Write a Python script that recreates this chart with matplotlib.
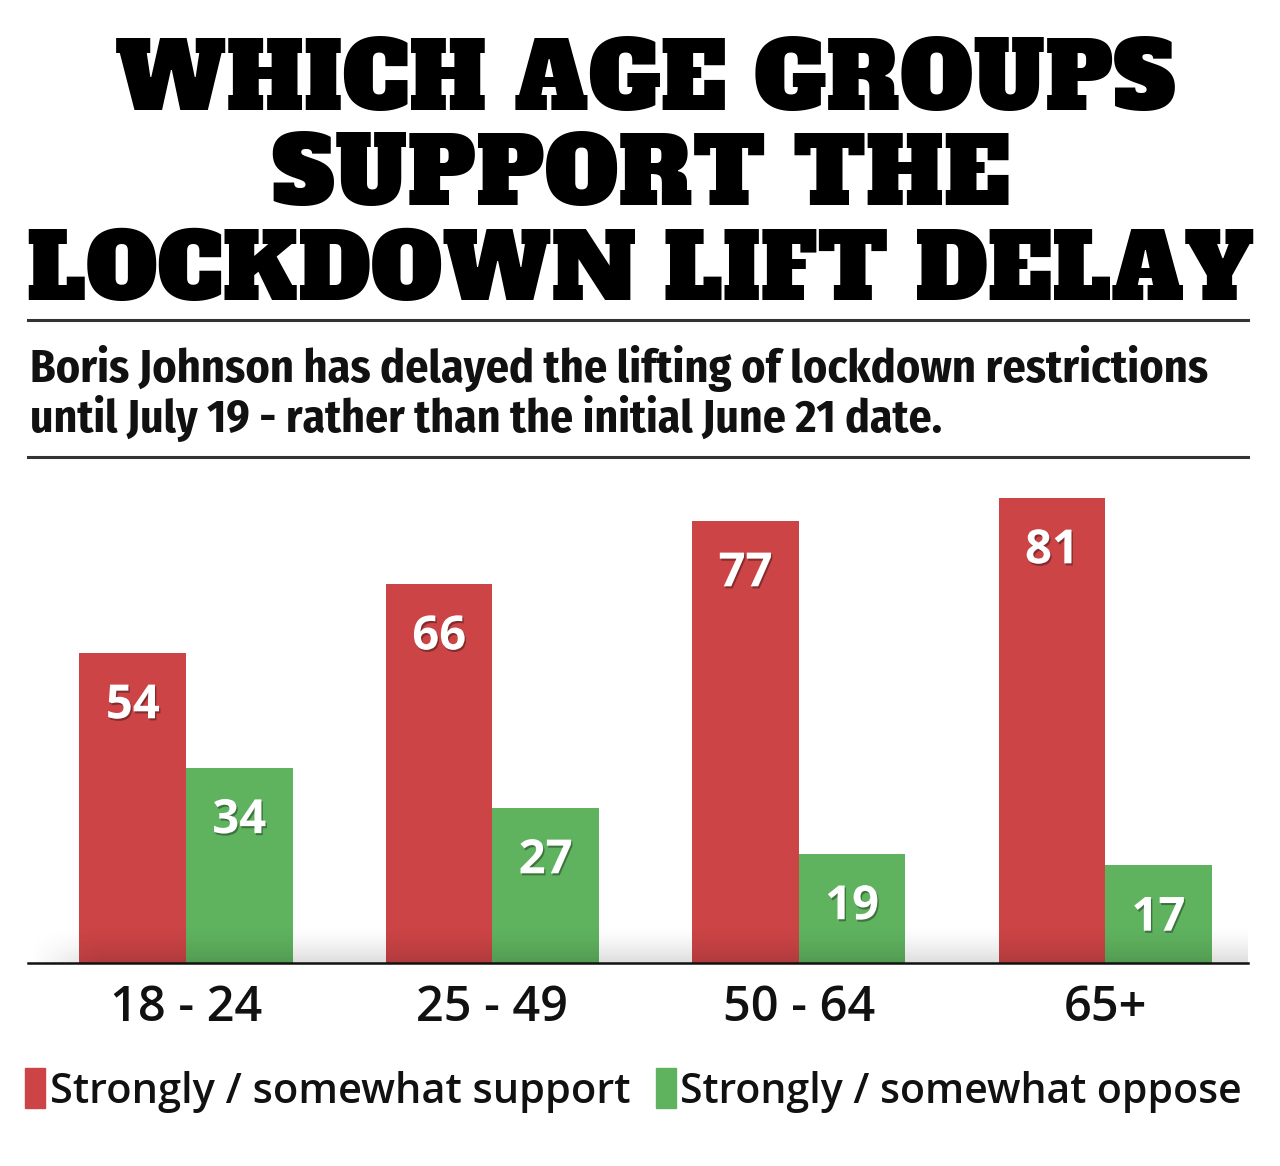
import matplotlib
matplotlib.use('Agg')
import matplotlib.pyplot as plt
import matplotlib.patheffects as pe
from matplotlib.patches import Rectangle
from matplotlib.lines import Line2D
import numpy as np

# poll: support for delaying the lockdown lift, by age group
groups = ['18 - 24', '25 - 49', '50 - 64', '65+']
support = [54, 66, 77, 81]
oppose = [34, 27, 19, 17]

title_lines = ['WHICH AGE GROUPS', 'SUPPORT THE', 'LOCKDOWN LIFT DELAY']
subtitle_lines = ['Boris Johnson has delayed the lifting of lockdown restrictions',
                  'until July 19 - rather than the initial June 21 date.']
legend_labels = ['Strongly / somewhat support', 'Strongly / somewhat oppose']

red = '#cc4446'
green = '#5fb35f'

W, H = 1280, 1166


def fx(px):
    return px / W


def fy(py):
    return 1 - py / H


fig = plt.figure(figsize=(W / 100, H / 100), dpi=100)
fig.patch.set_facecolor('white')
renderer = fig.canvas.get_renderer()


def fit(t, width_px):
    w = t.get_window_extent(renderer).width
    t.set_fontsize(t.get_fontsize() * width_px / w)


# title
title_x = [645, 641, 641]
title_y = [110, 205, 300]
title_w = [1060, 738, 1227]
for line, x, y, w in zip(title_lines, title_x, title_y, title_w):
    t = fig.text(fx(x), fy(y), line, ha='center', va='baseline',
                 family=['Alfa Slab One', 'DejaVu Serif'], fontsize=60, color='black')
    fit(t, w)

# rules
for y in [320, 457]:
    fig.add_artist(Line2D([fx(28), fx(1248)], [fy(y), fy(y)], color='#333333',
                          linewidth=2.2, transform=fig.transFigure))

# subtitle
sub_w = [1175, 910]
for line, y, w in zip(subtitle_lines, [382, 432], sub_w):
    t = fig.text(fx(30), fy(y), line, ha='left', va='baseline',
                 family=['Fira Sans Condensed', 'DejaVu Sans'], weight='bold',
                 fontsize=30, color='#111111')
    fit(t, w)

# bars
px_per_unit = 5.74
ax = fig.add_axes([fx(28), fy(963), fx(1248) - fx(28), (963 - 470) / H])
x = np.arange(len(groups))
bw = 0.3476
ax.bar(x - bw / 2, support, bw, color=red, zorder=2)
ax.bar(x + bw / 2, oppose, bw, color=green, zorder=2)

xl = (28 - 186) / 306.4
xr = (1248 - 186) / 306.4
ytop = (963 - 470) / px_per_unit

# soft shadow along the base
sh_h = 40 / px_per_unit
ny, nx = 60, 400
yy = np.linspace(1, 0, ny)[:, None]
xx = np.linspace(0, 1, nx)[None, :]
alpha_v = (1 - yy) ** 1.6
alpha_h = np.clip(xx * 1220 / 70, 0, 1)
rgba = np.zeros((ny, nx, 4))
rgba[..., 3] = 0.14 * alpha_v * alpha_h
ax.imshow(rgba, extent=[xl, xr, 0, sh_h], aspect='auto', zorder=3,
          interpolation='bilinear')

ax.set_xlim(xl, xr)
ax.set_ylim(0, ytop)

for i in range(len(groups)):
    for xpos, val in [(x[i] - bw / 2, support[i]), (x[i] + bw / 2, oppose[i])]:
        ax.annotate(str(val), (xpos, val), xytext=(0, -38), textcoords='offset points',
                    ha='center', va='center', color='white', fontsize=34,
                    family='Open Sans', weight='bold', zorder=4,
                    path_effects=[pe.SimplePatchShadow(offset=(1, -1.5), shadow_rgbFace='black', alpha=0.35),
                                  pe.Normal()])

for s in ['top', 'left', 'right']:
    ax.spines[s].set_visible(False)
ax.spines['bottom'].set_linewidth(1.8)
ax.spines['bottom'].set_color('#111111')
ax.spines['bottom'].set_zorder(5)
ax.set_yticks([])
ax.set_xticks(x, groups, fontsize=35, family='Open Sans', weight='semibold')
ax.tick_params(axis='x', length=0, pad=15, colors='#111111')

# legend
leg_colors = [red, green]
leg_box_x = [25, 656]
leg_text_x = [50, 680]
leg_text_w = [580, 563]
for c, bx, tx, label, w in zip(leg_colors, leg_box_x, leg_text_x, legend_labels, leg_text_w):
    fig.patches.append(Rectangle((fx(bx), fy(1108)), fx(20), 40 / H, color=c,
                                 transform=fig.transFigure))
    t = fig.text(fx(tx), fy(1103), label, ha='left', va='baseline',
                 family='Open Sans', weight='semibold', fontsize=28, color='#111111')
    fit(t, w)

fig.savefig('out.png', dpi=100)
